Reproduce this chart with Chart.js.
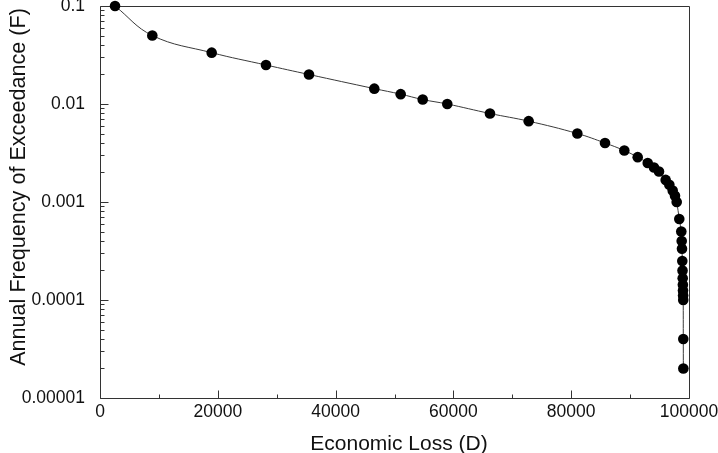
<!DOCTYPE html>
<html>
<head>
<meta charset="utf-8">
<script src="https://cdn.jsdelivr.net/npm/chart.js@4"></script>
<style>
  html, body { margin: 0; padding: 0; background: #fff; }
  #wrap { width: 718px; height: 453px; position: relative; }
</style>
</head>
<body>
<div id="wrap"><canvas id="c" width="718" height="453"></canvas></div>
<script>
// Economic loss (D) values
const lossValues = [2550, 8880, 18960, 28180, 35480, 46570, 51050, 54790, 58960, 66210,
  72780, 81040, 85740, 89020, 91290, 92990, 94060, 94910, 96040, 96660,
  97230, 97620, 97910, 98350, 98690, 98760, 98810, 98860, 98900, 98930,
  98960, 98980, 99000, 99020, 99030, 99040];
// Annual frequency of exceedance (F)
const freqValues = [0.1, 0.05, 0.0334, 0.025, 0.02, 0.01435, 0.0126, 0.0111, 0.01, 0.008,
  0.00668, 0.005, 0.004, 0.00335, 0.00287, 0.0025, 0.00225, 0.00205, 0.00168, 0.0015,
  0.00131, 0.00116, 0.001, 0.00067, 0.0005, 0.0004, 0.000333, 0.00025, 0.0002, 0.000167,
  0.000143, 0.000125, 0.000111, 0.0001, 0.00004, 0.00002];

// Tick labels
const xTickValues = [0, 10000, 20000, 30000, 40000, 50000, 60000, 70000, 80000, 90000, 100000];
const xTickLabels = ['0', '', '20000', '', '40000', '', '60000', '', '80000', '', '100000'];
const yDecades = [0.00001, 0.0001, 0.001, 0.01, 0.1];
const yTickLabels = ['0.00001', '0.0001', '0.001', '0.01', '0.1'];
const yMinorMultipliers = [2, 3, 4, 5, 6, 7, 8, 9];

const xTitle = 'Economic Loss (D)';
const yTitle = 'Annual Frequency of Exceedance (F)';

function yAllTicks() {
  const out = [];
  yDecades.forEach((d, i) => {
    out.push({ value: d });
    if (i < yDecades.length - 1) yMinorMultipliers.forEach(m => out.push({ value: d * m }));
  });
  return out;
}

const fontFamily = '"Liberation Sans", Arial, sans-serif';

const framePlugin = {
  id: 'frame',
  beforeDatasetsDraw(chart) {
    const { ctx, chartArea: a, scales } = chart;
    const xs = scales.x, ys = scales.y;
    ctx.save();
    ctx.strokeStyle = '#333';
    ctx.lineWidth = 1;
    ctx.beginPath();
    const L = Math.round(a.left) + 0.5, R = Math.round(a.right) + 0.5;
    const T = Math.round(a.top) + 0.5, B = Math.round(a.bottom) + 0.5;
    ctx.rect(L, T, R - L, B - T);
    ys.ticks.forEach(t => {
      const py = Math.round(ys.getPixelForValue(t.value)) + 0.5;
      const major = yDecades.some(d => Math.abs(d - t.value) / d < 1e-6);
      const len = major ? 8 : 4;
      ctx.moveTo(L, py); ctx.lineTo(L + len, py);
    });
    xs.ticks.forEach(t => {
      const px = Math.round(xs.getPixelForValue(t.value)) + 0.5;
      const major = t.value % 20000 === 0;
      const len = major ? 8 : 4;
      ctx.moveTo(px, B); ctx.lineTo(px, B - len);
    });
    ctx.stroke();
    ctx.restore();
  },
  afterDraw(chart) {
    const { ctx } = chart;
    ctx.save();
    ctx.fillStyle = '#111';
    ctx.textAlign = 'center';
    ctx.textBaseline = 'alphabetic';
    ctx.font = '21px ' + fontFamily;
    ctx.fillText(xTitle, 399, 450);
    ctx.translate(25, 187);
    ctx.rotate(-Math.PI / 2);
    ctx.font = '21.6px ' + fontFamily;
    ctx.fillText(yTitle, 0, 0);
    ctx.restore();
  }
};

new Chart(document.getElementById('c'), {
  type: 'line',
  data: {
    datasets: [{
      data: lossValues.map((v, i) => ({ x: v, y: freqValues[i] })),
      borderColor: '#3a3a3a',
      borderWidth: 1,
      backgroundColor: '#000',
      pointBackgroundColor: '#000',
      pointBorderColor: '#000',
      pointBorderWidth: 0,
      pointRadius: 5.3,
      tension: 0.4,
      fill: false,
      clip: false
    }]
  },
  options: {
    responsive: false,
    animation: false,
    devicePixelRatio: 1,
    layout: { padding: { top: 6, right: 29, left: 0, bottom: 0 } },
    plugins: { legend: { display: false }, tooltip: { enabled: false } },
    scales: {
      x: {
        type: 'linear',
        min: 0, max: 100000,
        afterBuildTicks: s => { s.ticks = xTickValues.map(v => ({ value: v })); },
        afterFit: s => { s.height = 55; s.paddingLeft = 0; s.paddingRight = 0; },
        grid: { display: false, drawTicks: false },
        border: { display: false },
        ticks: {
          autoSkip: false, maxRotation: 0, padding: 4,
          color: '#111',
          font: { family: fontFamily, size: 17.5 },
          callback: (v) => { const i = xTickValues.indexOf(v); return i >= 0 ? xTickLabels[i] : ''; }
        },
        title: { display: false }
      },
      y: {
        type: 'logarithmic',
        min: 0.00001, max: 0.1,
        afterBuildTicks: s => { s.ticks = yAllTicks(); },
        afterFit: s => { s.width = 100; s.paddingTop = 0; s.paddingBottom = 0; },
        grid: { display: false, drawTicks: false },
        border: { display: false },
        ticks: {
          autoSkip: false, padding: 15,
          color: '#111',
          font: { family: fontFamily, size: 17.5 },
          callback: (v) => {
            const i = yDecades.findIndex(d => Math.abs(d - v) / d < 1e-6);
            return i >= 0 ? yTickLabels[i] : '';
          }
        },
        title: { display: false }
      }
    }
  },
  plugins: [framePlugin]
});
</script>
</body>
</html>
